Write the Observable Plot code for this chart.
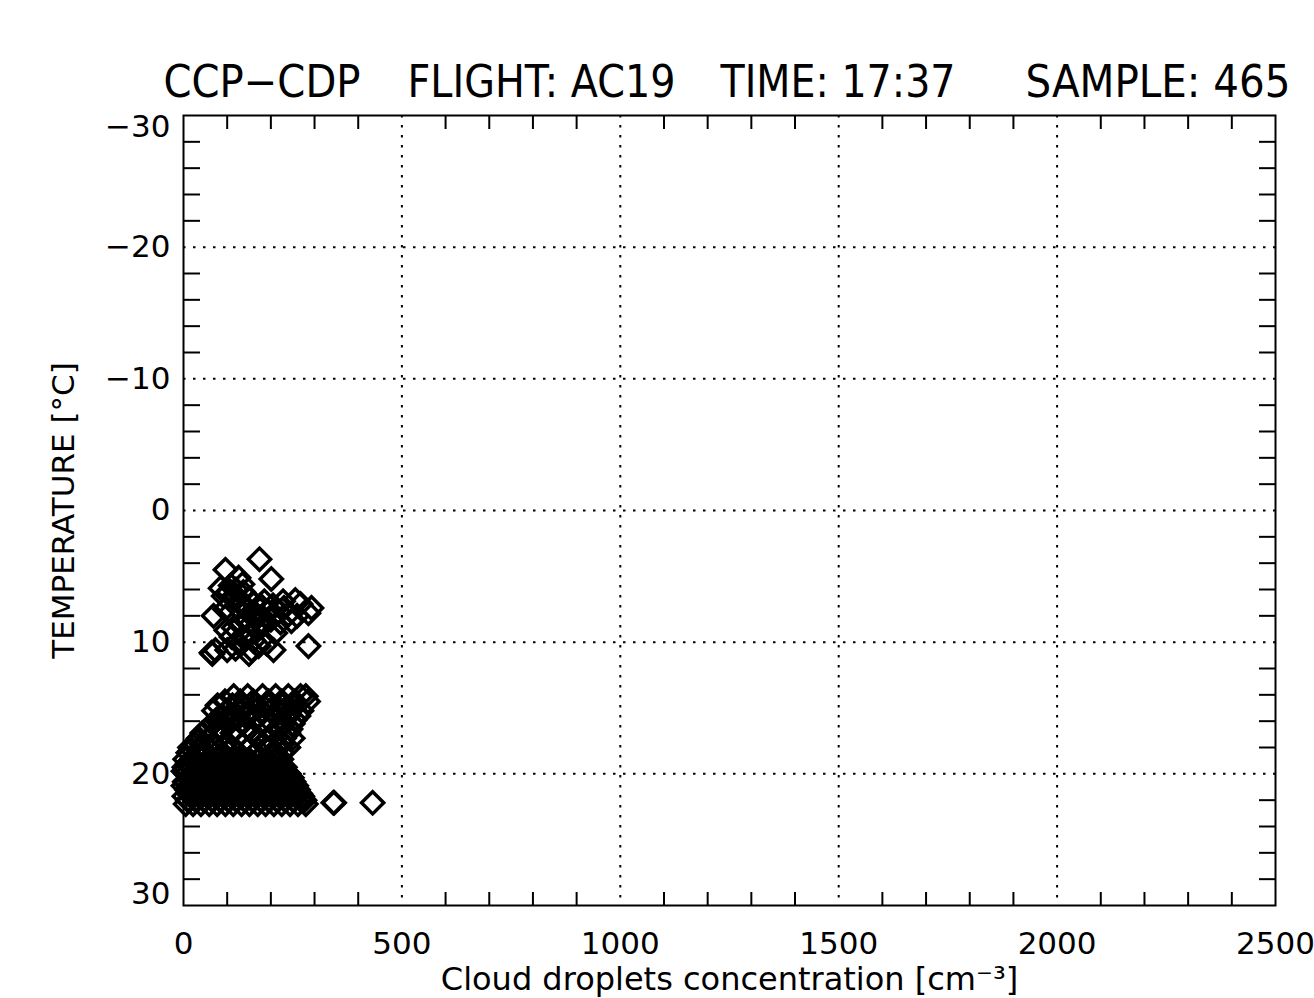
<!DOCTYPE html>
<html>
<head>
<meta charset="utf-8">
<script src="https://cdn.jsdelivr.net/npm/d3@7"></script>
<script src="https://cdn.jsdelivr.net/npm/@observablehq/plot@0.6"></script>
<style>
  html, body { margin: 0; padding: 0; background: #fff; }
  #chart { width: 1314px; height: 998px; overflow: hidden; }
</style>
</head>
<body>
<div id="chart"></div>
<script>
// ---------- text ----------
const titleParts = ["CCP\u2212CDP", "FLIGHT: AC19", "TIME: 17:37", "SAMPLE: 465"];
const xTitle = "Cloud droplets concentration [cm\u207B\u00B3]";
const yTitle = "TEMPERATURE [\u00B0C]";

// ---------- ticks ----------
const xLabelTicks = [0, 500, 1000, 1500, 2000, 2500];
const xGridTicks = [500, 1000, 1500, 2000];
const xMinorTicks = [100, 200, 300, 400, 600, 700, 800, 900, 1100, 1200, 1300, 1400,
                     1600, 1700, 1800, 1900, 2100, 2200, 2300, 2400];
const yMidLabelTicks = [-20, -10, 0, 10, 20];
const yTopLabelTick = [-30];
const yBottomLabelTick = [30];
const yGridTicks = [-20, -10, 0, 10, 20];
const yMinorTicks = [-28, -26, -24, -22, -18, -16, -14, -12, -8, -6, -4, -2,
                     2, 4, 6, 8, 12, 14, 16, 18, 22, 24, 26, 28];

// ---------- data: upper cluster (conc cm^-3, temperature °C) ----------
const upperConc = [174, 96, 126, 201, 85, 108, 137, 114, 149, 92, 256, 293, 69, 108, 176, 194,
                   217, 160, 247, 286, 130, 183, 153, 98, 64, 73, 119, 156, 172, 206, 286, 144,
                   120, 135, 160, 185, 200, 230, 165, 140, 115, 210, 190, 268, 150, 130, 104, 228,
                   240, 170, 125, 100, 66, 118, 145, 130, 155, 178, 205, 222, 110, 135, 160, 95, 260];
const upperTemp = [3.7, 4.5, 5.1, 5.2, 5.9, 5.7, 6.2, 6.7, 6.7, 6.5, 6.8, 7.4, 8.0, 7.7, 7.2, 7.7,
                   7.7, 8.1, 8.4, 7.8, 8.7, 8.7, 9.3, 9.1, 10.8, 10.6, 10.5, 10.6, 10.3, 10.6, 10.3, 9.7,
                   6.0, 5.6, 7.0, 6.9, 8.3, 7.4, 9.0, 8.3, 8.9, 9.3, 10.1, 7.1, 10.9, 10.2, 6.2, 6.9,
                   7.9, 8.0, 7.4, 10.6, 10.9, 6.4, 7.6, 6.9, 8.6, 8.4, 7.2, 8.5, 9.6, 9.6, 9.9, 7.5, 8.0];

// ---------- data: middle cluster, row by row ----------
const midRowTemp = [14.1, 14.5, 14.8, 15.2, 15.6, 15.9, 16.2, 16.6, 16.9, 17.3, 17.7, 18.0, 18.4];
const midRowConc = [
  [115, 147, 181, 211, 240, 268, 280],
  [95, 130, 160, 195, 225, 255, 285],
  [78, 112, 135, 165, 195, 227, 256],
  [70, 100, 130, 150, 180, 215, 245, 270],
  [89, 124, 147, 211, 240, 263],
  [75, 108, 165, 195, 225, 255],
  [66, 103, 135, 181, 227, 250],
  [55, 88, 120, 150, 190, 215, 245],
  [43, 73, 112, 158, 204, 240],
  [35, 58, 85, 122, 170, 195, 230, 250],
  [27, 66, 96, 135, 181, 227],
  [15, 40, 75, 110, 150, 190, 215, 240],
  [11, 50, 89, 126, 165, 204, 225]
];

// ---------- data: lower block, row by row ----------
const lowRowTemp = [18.9, 19.2, 19.5, 19.8, 20.0, 20.3, 20.6, 20.9, 21.2, 21.5, 21.7, 22.0, 22.3];
const lowRowConc = [
  [4, 20, 41, 58, 77, 95, 114, 133, 150, 171, 189, 208, 224],
  [10, 28, 47, 66, 85, 104, 122, 141, 159, 178, 196, 215],
  [2, 15, 33, 52, 70, 88, 106, 125, 143, 162, 180, 199, 218, 232],
  [0, 12, 30, 48, 67, 86, 104, 123, 141, 160, 178, 197, 215, 234],
  [6, 24, 43, 61, 80, 99, 117, 136, 154, 173, 191, 210, 228, 241],
  [14, 33, 52, 70, 89, 108, 126, 145, 163, 182, 200, 219, 236, 248],
  [3, 19, 37, 55, 74, 92, 111, 129, 148, 166, 185, 203, 222, 240, 252],
  [0, 12, 30, 49, 67, 86, 104, 123, 141, 160, 178, 197, 215, 234, 252, 258],
  [8, 26, 45, 63, 82, 100, 119, 137, 156, 174, 193, 211, 230, 248, 262],
  [12, 31, 50, 68, 87, 105, 124, 142, 161, 179, 198, 216, 235, 253, 267],
  [2, 17, 35, 54, 72, 91, 109, 128, 146, 165, 183, 202, 220, 239, 257, 272],
  [10, 28, 47, 66, 84, 103, 121, 140, 158, 177, 195, 214, 232, 251, 269, 277],
  [5, 22, 40, 59, 77, 96, 114, 133, 151, 170, 188, 207, 225, 244, 262, 280]
];
// isolated outliers
const outConc = [343, 345, 433];
const outTemp = [22.2, 22.2, 22.2];

// ---------- build table ----------
const points = [
  ...upperConc.map((c, i) => ({conc: c, temp: upperTemp[i]})),
  ...midRowConc.flatMap((row, r) => row.map(c => ({conc: c, temp: midRowTemp[r]}))),
  ...lowRowConc.flatMap((row, r) => row.map(c => ({conc: c, temp: lowRowTemp[r]}))),
  ...outConc.map((c, i) => ({conc: c, temp: outTemp[i]}))
];

// ---------- layout ----------
const W = 1314, H = 998;
const mL = 183, mR = 39, mT = 115, mB = 93;
const titleStarts = [163, 407, 720, 1025];
const titleWidths = [197, 268, 235, 265];
const FONT = "DejaVu Sans";
const fmt = d3.format("d");
const dotted = {stroke: "black", strokeOpacity: 1, strokeWidth: 2, strokeDasharray: "2.5,7.5"};
const tickStyle = {stroke: "black", strokeWidth: 2, tickFormat: () => ""};

const chart = Plot.plot({
  width: W, height: H,
  marginLeft: mL, marginRight: mR, marginTop: mT, marginBottom: mB,
  style: {fontFamily: FONT, color: "black", background: "white", overflow: "visible"},
  x: {domain: [0, 2500], label: null},
  y: {domain: [-30, 30], reverse: true, label: null},
  marks: [
    Plot.gridX(xGridTicks, dotted),
    Plot.gridY(yGridTicks, dotted),
    // minor ticks on all four sides (inward)
    Plot.axisX(xMinorTicks, {anchor: "bottom", tickSize: -13, ...tickStyle}),
    Plot.axisX(xMinorTicks, {anchor: "top", tickSize: -13, ...tickStyle}),
    Plot.axisY(yMinorTicks, {anchor: "left", tickSize: -17, ...tickStyle}),
    Plot.axisY(yMinorTicks, {anchor: "right", tickSize: -17, ...tickStyle}),
    // labels
    Plot.axisX(xLabelTicks, {anchor: "bottom", tickSize: 0, tickPadding: 26, fontSize: 31, tickFormat: fmt}),
    Plot.axisY(yMidLabelTicks, {anchor: "left", tickSize: 0, tickPadding: 13, fontSize: 31, tickFormat: fmt}),
    Plot.axisY(yTopLabelTick, {anchor: "left", tickSize: 0, tickPadding: 13, fontSize: 31, tickFormat: fmt, dy: 12}),
    Plot.axisY(yBottomLabelTick, {anchor: "left", tickSize: 0, tickPadding: 13, fontSize: 31, tickFormat: fmt, dy: -11}),
    Plot.frame({stroke: "black", strokeWidth: 2}),
    // data
    Plot.dot(points, {x: "conc", y: "temp", symbol: "diamond2", r: 10,
                      stroke: "black", strokeWidth: 3.5, fill: "none"}),
    // titles
    ...titleParts.map((s, i) => Plot.text([s], {
      frameAnchor: "top-left", text: d => d, dx: titleStarts[i] - mL, dy: 96 - mT,
      textAnchor: "start", lineAnchor: "bottom", fontSize: 44, fill: "black"
    })),
    Plot.text([xTitle], {frameAnchor: "bottom", text: d => d, dy: 989 - (H - mB),
      textAnchor: "middle", lineAnchor: "bottom", fontSize: 32, fill: "black"}),
    Plot.text([yTitle], {frameAnchor: "left", text: d => d, dx: 73 - mL, rotate: -90,
      textAnchor: "middle", lineAnchor: "bottom", fontSize: 31, fill: "black"})
  ]
});

// fit title segments to their measured widths
d3.select(chart).selectAll("text").each(function () {
  const i = titleParts.indexOf(this.textContent);
  if (i >= 0) {
    d3.select(this).attr("textLength", titleWidths[i]).attr("lengthAdjust", "spacingAndGlyphs");
  }
});

document.getElementById("chart").appendChild(chart);
</script>
</body>
</html>
